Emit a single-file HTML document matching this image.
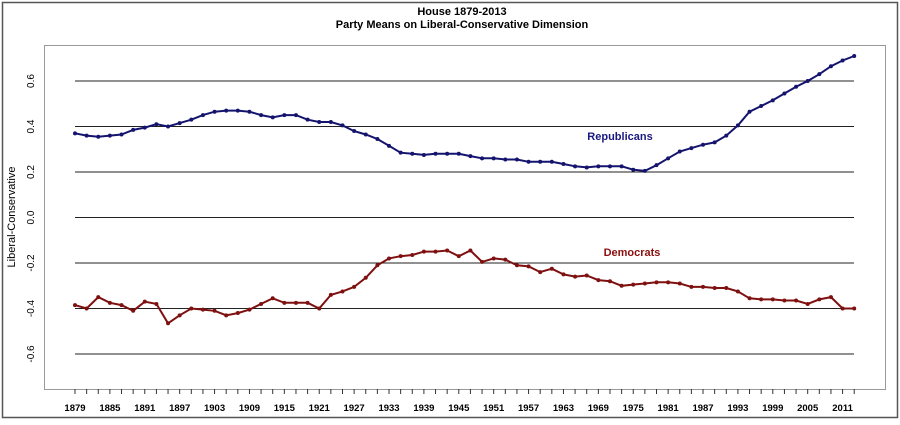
<!DOCTYPE html>
<html><head><style>
body{margin:0;background:#fff;}
svg text{font-family:"Liberation Sans",Arial,sans-serif;}
</style></head><body>
<svg id="s" width="900" height="420" xmlns="http://www.w3.org/2000/svg">
<rect x="0" y="0" width="900" height="420" fill="#fff"/>
<rect x="2.5" y="2.5" width="895" height="415" fill="none" stroke="#555" stroke-width="1.5"/>
<rect x="44.5" y="45.5" width="841" height="344" fill="none" stroke="#999" stroke-width="1"/>
<text x="462" y="15" font-size="11" font-weight="bold" text-anchor="middle">House 1879-2013</text>
<text x="462" y="28" font-size="11" font-weight="bold" text-anchor="middle">Party Means on Liberal-Conservative Dimension</text>
<text transform="translate(15,217) rotate(-90)" font-size="11" text-anchor="middle">Liberal-Conservative</text>
<g id="g"></g>
<text x="620" y="140" font-size="11" font-weight="bold" fill="#1a1a80" text-anchor="middle">Republicans</text>
<text x="632" y="256" font-size="11" font-weight="bold" fill="#8b1010" text-anchor="middle">Democrats</text>
</svg>
<script>
var g=document.getElementById('g'),h='';
function Y(v){return 217.5-v*227.5;}
function X(i){return 75+i*11.63;}
[0.6,0.4,0.2,0,-0.2,-0.4,-0.6].forEach(function(v){
 h+='<line x1="75" x2="854" y1="'+Y(v)+'" y2="'+Y(v)+'" stroke="#222" stroke-width="1"/>';
 h+='<text transform="translate(34,'+Y(v)+') rotate(-90)" font-size="10" text-anchor="middle">'+v.toFixed(1)+'</text>';
});
for(var i=0;i<68;i++){h+='<line x1="'+X(i)+'" x2="'+X(i)+'" y1="389" y2="394" stroke="#333"/>';
 if(i%3==0)h+='<text x="'+X(i)+'" y="411" font-size="9.5" font-weight="bold" text-anchor="middle">'+(1879+2*i)+'</text>';}
var R=[.37,.36,.355,.36,.365,.385,.395,.41,.40,.415,.43,.45,.465,.47,.47,.465,.45,.44,.45,.45,.43,.42,.42,.405,.38,.365,.345,.315,.285,.28,.275,.28,.28,.28,.27,.26,.26,.255,.255,.245,.245,.245,.235,.225,.22,.225,.225,.225,.21,.205,.23,.26,.29,.305,.32,.33,.36,.405,.465,.49,.515,.545,.575,.60,.63,.665,.69,.71];
var D=[-.385,-.40,-.35,-.375,-.385,-.41,-.37,-.38,-.465,-.43,-.40,-.405,-.41,-.43,-.42,-.405,-.38,-.355,-.375,-.375,-.375,-.40,-.34,-.325,-.305,-.265,-.21,-.18,-.17,-.165,-.15,-.15,-.145,-.17,-.145,-.195,-.18,-.185,-.21,-.215,-.24,-.225,-.25,-.26,-.255,-.275,-.28,-.30,-.295,-.29,-.285,-.285,-.29,-.305,-.305,-.31,-.31,-.325,-.355,-.36,-.36,-.365,-.365,-.38,-.36,-.35,-.40,-.40];
function ser(a,c){var p=a.map(function(v,i){return X(i).toFixed(1)+','+Y(v).toFixed(1)}).join(' ');
 h+='<polyline points="'+p+'" fill="none" stroke="'+c+'" stroke-width="2"/>';
 a.forEach(function(v,i){h+='<circle cx="'+X(i)+'" cy="'+Y(v)+'" r="2" fill="'+c+'"/>';});}
ser(R,'#14146e');ser(D,'#7e1010');
g.innerHTML=h;
</script>
</body></html>
